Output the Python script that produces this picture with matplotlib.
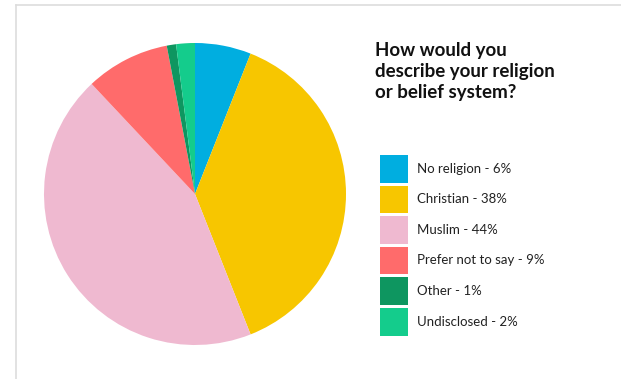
import matplotlib.pyplot as plt
from matplotlib.lines import Line2D

categories = ["No religion", "Christian", "Muslim", "Prefer not to say", "Other", "Undisclosed"]
shares = [6, 38, 44, 9, 1, 2]
colors = ["#00AEE0", "#F7C600", "#EFB9D0", "#FF6B6B", "#0E9660", "#14CC8C"]
title = "How would you\ndescribe your religion\nor belief system?"

W, H = 621, 379
fig = plt.figure(figsize=(W / 100, H / 100), dpi=100)

# light card border on the left and top
fig.add_artist(Line2D([16 / W, 16 / W], [0, 1 - 5 / H], color="#DDDDDD", lw=1.2))
fig.add_artist(Line2D([16 / W, 1], [1 - 5 / H, 1 - 5 / H], color="#DDDDDD", lw=1.2))

ax = fig.add_axes([44 / W, 34 / H, 302 / W, 302 / H])
wedges, _ = ax.pie(shares, colors=colors, startangle=90, counterclock=False,
                   wedgeprops=dict(linewidth=0))
ax.set_xlim(-1, 1)
ax.set_ylim(-1, 1)
ax.set_aspect("equal")

fig.text(375 / W, 1 - 42 / H, title, ha="left", va="top", fontsize=13.5,
         fontweight="bold", family="Lato", linespacing=1.3, color="#111111")

labels = [f"{c} - {v}%" for c, v in zip(categories, shares)]
fig.legend(wedges, labels, loc="upper left", bbox_to_anchor=(380 / W, 1 - 155 / H),
           frameon=False, borderpad=0, borderaxespad=0, handlelength=2.1,
           handleheight=2.85, handletextpad=0.7, labelspacing=0.22,
           prop=dict(family="Lato", size=9.5), labelcolor="#222222")

fig.savefig("out.png", dpi=100)
